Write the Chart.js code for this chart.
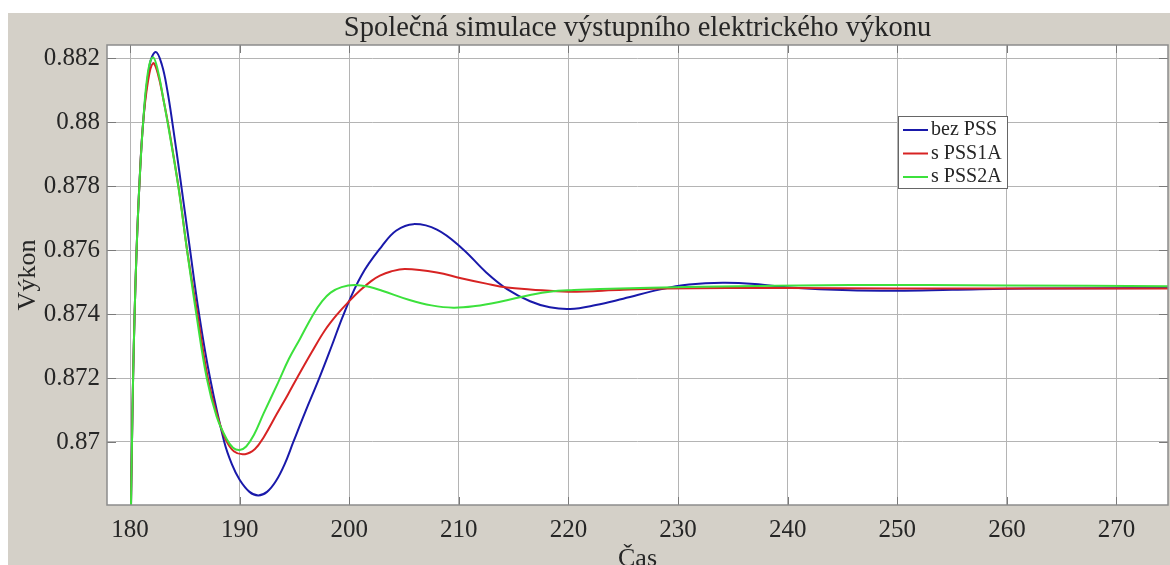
<!DOCTYPE html>
<html>
<head>
<meta charset="utf-8">
<script src="https://cdn.jsdelivr.net/npm/chart.js@4.4.1/dist/chart.umd.min.js"></script>
<style>
  html, body { margin: 0; padding: 0; background: #ffffff; }
  #wrap { position: absolute; left: 8px; top: 13px; width: 1162px; height: 552px; background: #d4d0c8; }
</style>
</head>
<body>
<div id="wrap"><canvas id="myChart" width="1162" height="552"></canvas></div>
<script>
const xTicks = [180, 190, 200, 210, 220, 230, 240, 250, 260, 270];
const yTicks = [0.87, 0.872, 0.874, 0.876, 0.878, 0.88, 0.882];
const seriesNames = ["bez PSS", "s PSS1A", "s PSS2A"];

// bez PSS
const tBez = [180.0, 180.09, 180.18, 180.28, 180.42, 180.6, 180.85, 181.2, 181.8, 182.35, 182.9, 183.4, 183.9, 184.6, 185.4, 186.3, 187.3, 188.6, 189.3, 190.0, 190.9, 191.7, 192.5, 193.3, 194.1, 194.9, 196.0, 197.2, 198.4, 199.5, 201.1, 203.0, 204.3, 205.85, 208.0, 210.3, 212.5, 214.4, 216.5, 218.3, 220.15, 222.5, 225.0, 228.4, 231.0, 234.1, 237.0, 240.2, 245.7, 250.0, 255.0, 262.0, 275.0];
const pBez = [0.865, 0.868, 0.870, 0.872, 0.874, 0.876, 0.878, 0.880, 0.8818, 0.88219, 0.8818, 0.8810, 0.8799, 0.8782, 0.8762, 0.874, 0.872, 0.870, 0.8693, 0.86882, 0.86844, 0.86833, 0.86844, 0.86877, 0.8693, 0.870, 0.87095, 0.87194, 0.8730, 0.874, 0.8752, 0.87613, 0.87661, 0.87681, 0.87664, 0.87605, 0.8753, 0.87478, 0.8744, 0.87421, 0.874156, 0.87428, 0.87448, 0.87477, 0.87492, 0.874978, 0.87494, 0.87483, 0.87474, 0.87473, 0.87476, 0.8748, 0.87481];

// s PSS1A
const tPss1 = [180.0, 180.09, 180.18, 180.28, 180.42, 180.6, 180.85, 181.2, 181.65, 182.1, 182.55, 183.05, 183.6, 184.5, 185.25, 186.15, 187.1, 187.9, 188.7, 189.5, 190.5, 191.4, 192.2, 193.4, 194.4, 195.3, 196.6, 197.8, 199.0, 200.0, 201.0, 202.0, 202.8, 203.8, 205.1, 208.0, 210.2, 212.5, 214.4, 216.5, 220.0, 225.0, 229.0, 240.0, 250.0, 275.0];
const pPss1 = [0.865, 0.868, 0.870, 0.872, 0.874, 0.876, 0.878, 0.880, 0.8813, 0.88184, 0.8815, 0.8807, 0.8797, 0.8778, 0.8759, 0.874, 0.872, 0.8709, 0.8701, 0.8697, 0.86962, 0.86978, 0.87015, 0.87088, 0.87148, 0.87204, 0.87282, 0.8735, 0.87403, 0.8744, 0.87474, 0.87503, 0.8752, 0.87533, 0.875406, 0.8753, 0.87512, 0.87495, 0.87483, 0.87477, 0.8747, 0.87476, 0.8748, 0.87481, 0.8748, 0.8748];

// s PSS2A
const tPss2 = [180.0, 180.09, 180.18, 180.28, 180.42, 180.6, 180.85, 181.2, 181.65, 182.1, 182.55, 183.0, 183.5, 184.4, 185.2, 186.05, 187.0, 187.9, 188.8, 189.4, 190.0, 190.6, 191.3, 192.2, 193.5, 194.5, 195.5, 196.7, 197.5, 198.3, 199.3, 200.5, 201.8, 203.0, 205.5, 207.5, 209.5, 211.5, 213.76, 216.5, 218.3, 220.5, 222.9, 232.0, 245.7, 260.0, 275.0];
const pPss2 = [0.865, 0.868, 0.870, 0.872, 0.874, 0.876, 0.878, 0.880, 0.8816, 0.88203, 0.8816, 0.8808, 0.87985, 0.878, 0.876, 0.874, 0.872, 0.8708, 0.8701, 0.86982, 0.86975, 0.86986, 0.87022, 0.8709, 0.87185, 0.8726, 0.87322, 0.87398, 0.87439, 0.87467, 0.87484, 0.874906, 0.87485, 0.87473, 0.874438, 0.87427, 0.874198, 0.87425, 0.874385, 0.874594, 0.8747, 0.87475, 0.87478, 0.87485, 0.874906, 0.87489, 0.87487];

const lineColors = ["#1919aa", "#d72323", "#3ce13c"];
const serif = "'Liberation Serif', 'Times New Roman', serif";
const textColor = "#262626";

function toPoints(ts, ps) {
    return ts.map((t, i) => ({ x: t, y: ps[i] }));
}

// white plot box, frame + inward ticks and the legend box drawn inside the axes like matlab does
const plotFrame = {
    id: 'plotFrame',
    beforeDraw(chart) {
        const { ctx, chartArea: a } = chart;
        ctx.save();
        ctx.fillStyle = "#ffffff";
        ctx.fillRect(a.left, a.top, a.right - a.left, a.bottom - a.top);
        ctx.restore();
    },
    beforeDatasetsDraw(chart) {
        const { ctx, chartArea: a, scales } = chart;
        ctx.save();
        ctx.strokeStyle = "#7a7a7a";
        ctx.lineWidth = 1;
        ctx.beginPath();
        xTicks.forEach(v => {
            const x = Math.round(scales.x.getPixelForValue(v)) + 0.5;
            ctx.moveTo(x, a.bottom); ctx.lineTo(x, a.bottom - 8);
            ctx.moveTo(x, a.top); ctx.lineTo(x, a.top + 8);
        });
        yTicks.forEach(v => {
            const y = Math.round(scales.y.getPixelForValue(v)) + 0.5;
            ctx.moveTo(a.left, y); ctx.lineTo(a.left + 9, y);
            ctx.moveTo(a.right, y); ctx.lineTo(a.right - 9, y);
        });
        ctx.stroke();
        ctx.restore();
    },
    afterDraw(chart) {
        const { ctx, chartArea: a } = chart;
        ctx.save();
        ctx.strokeStyle = "#8c8c8c";
        ctx.lineWidth = 1.5;
        ctx.strokeRect(a.left, a.top, a.right - a.left, a.bottom - a.top);

        const bx = a.left + 791, by = a.top + 71, bw = 109, bh = 72;
        ctx.fillStyle = "#ffffff";
        ctx.fillRect(bx, by, bw, bh);
        ctx.strokeStyle = "#666666";
        ctx.lineWidth = 1;
        ctx.strokeRect(bx + 0.5, by + 0.5, bw, bh);
        ctx.font = "20px " + serif;
        ctx.textBaseline = "middle";
        seriesNames.forEach((name, i) => {
            const y = by + 14 + i * 23.5;
            ctx.strokeStyle = lineColors[i];
            ctx.lineWidth = 2;
            ctx.beginPath();
            ctx.moveTo(bx + 5, y);
            ctx.lineTo(bx + 30, y);
            ctx.stroke();
            ctx.fillStyle = textColor;
            ctx.fillText(name, bx + 33, y);
        });
        ctx.restore();
    }
};

const seriesData = [toPoints(tBez, pBez), toPoints(tPss1, pPss1), toPoints(tPss2, pPss2)];

new Chart(document.getElementById("myChart"), {
    type: 'line',
    data: {
        datasets: seriesData.map((pts, i) => ({
            label: seriesNames[i],
            data: pts,
            borderColor: lineColors[i],
            backgroundColor: lineColors[i],
            borderWidth: 2,
            pointRadius: 0,
            tension: 0.4,
            fill: false,
            order: 2 - i // green on top
        }))
    },
    options: {
        responsive: false,
        animation: false,
        layout: { padding: { left: 0, right: 2, top: 0, bottom: 0 } },
        scales: {
            x: {
                type: 'linear',
                min: 177.9,
                max: 274.7,
                afterBuildTicks: (s) => { s.ticks = xTicks.map(v => ({ value: v })); },
                afterFit: (s) => { s.height = 60; },
                grid: { color: "#b4b4b4", drawTicks: false },
                border: { display: false },
                ticks: {
                    padding: 10,
                    color: textColor,
                    font: { family: serif, size: 25 },
                    maxRotation: 0,
                    autoSkip: false
                },
                title: {
                    display: true,
                    text: "Čas",
                    color: textColor,
                    font: { family: serif, size: 26, lineHeight: 0.46 },
                    padding: 0
                }
            },
            y: {
                min: 0.86803,
                max: 0.88241,
                afterBuildTicks: (s) => { s.ticks = yTicks.map(v => ({ value: v })); },
                afterFit: (s) => { s.width = 99; },
                grid: { color: "#b4b4b4", drawTicks: false },
                border: { display: false },
                ticks: {
                    padding: 7,
                    color: textColor,
                    font: { family: serif, size: 25 },
                    autoSkip: false,
                    callback: (v) => parseFloat(v.toFixed(3)).toString()
                },
                title: {
                    display: true,
                    text: "Výkon",
                    color: textColor,
                    font: { family: serif, size: 26, lineHeight: 1.2 },
                    padding: { top: 5, bottom: 0 }
                }
            }
        },
        plugins: {
            legend: { display: false },
            tooltip: { enabled: false },
            title: {
                display: true,
                fullSize: false,
                text: "Společná simulace výstupního elektrického výkonu",
                color: textColor,
                font: { family: serif, size: 28.5, weight: 'normal', lineHeight: 1.0 },
                padding: { top: 1.5, bottom: 2 }
            }
        }
    },
    plugins: [plotFrame]
});
</script>
</body>
</html>
